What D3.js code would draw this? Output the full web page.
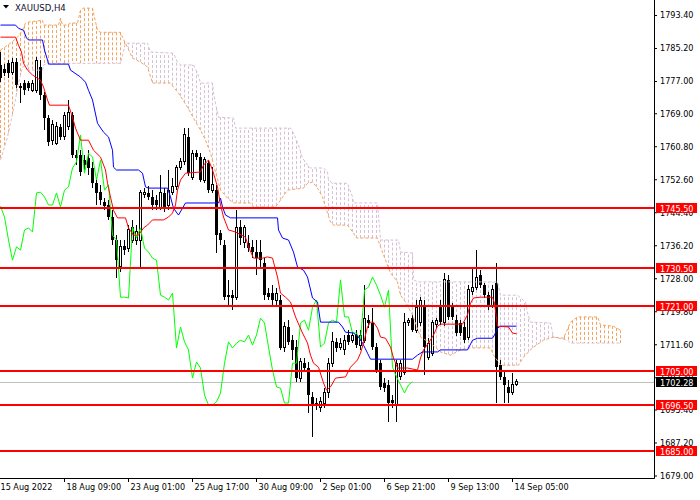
<!DOCTYPE html>
<html>
<head>
<meta charset="utf-8">
<script src="https://cdn.jsdelivr.net/npm/d3@7"></script>
<style>
  body { margin: 0; background: #fff; }
  svg { display: block; }
  text { font-family: "DejaVu Sans Condensed", "DejaVu Sans", sans-serif; }
</style>
</head>
<body>
<script>
// candles, one per H4 bar (bar 0 = left edge)
var open = [1781.0,1780.0,1781.4,1779.2,1781.7,1775.7,1776.5,1776.5,1774.7,1774.7,
  1780.5,1773.5,1767.8,1762.3,1761.6,1765.6,1763.1,1765.6,1768.5,1758.6,
  1758.6,1757.4,1757.9,1755.4,1751.6,1749.4,1746.9,1746.2,1743.2,1737.5,
  1730.8,1736.0,1735.5,1737.5,1737.5,1737.5,1748.7,1749.2,1748.2,1747.4,
  1745.7,1749.2,1746.2,1749.4,1750.7,1755.4,1756.9,1763.1,1753.1,1759.1,
  1758.1,1752.4,1756.6,1749.9,1749.9,1739.2,1736.3,1723.8,1723.8,1723.1,
  1740.7,1736.8,1736.8,1735.8,1734.5,1734.5,1731.8,1724.3,1724.3,1722.6,
  1722.6,1710.7,1715.9,1712.6,1710.9,1703.2,1706.9,1705.7,1698.5,1697.0,
  1696.0,1697.0,1699.5,1706.9,1712.2,1710.9,1710.2,1713.9,1712.6,1713.9,
  1711.4,1712.6,1717.6,1716.9,1710.9,1706.9,1702.0,1701.5,1697.8,1696.5,
  1703.5,1704.5,1716.9,1718.1,1715.1,1716.9,1720.8,1708.4,1709.4,1716.4,
  1720.8,1716.9,1727.6,1720.8,1717.6,1716.9,1715.9,1713.4,1724.6,1725.6,
  1728.8,1726.3,1723.8,1721.3,1726.8,1706.4,1703.5,1701.0,1699.7,1701.7];
var high = [1784.2,1781.2,1782.2,1782.7,1782.7,1776.5,1777.2,1777.0,1777.2,1782.9,
  1782.2,1774.2,1768.5,1767.3,1766.8,1766.3,1769.3,1772.3,1769.3,1759.8,
  1759.8,1758.6,1759.8,1756.9,1752.9,1751.2,1747.9,1747.4,1744.9,1738.7,
  1737.5,1737.5,1741.2,1742.5,1741.2,1749.9,1750.4,1750.9,1749.9,1748.7,
  1753.6,1750.4,1754.9,1752.9,1756.1,1757.9,1765.3,1765.3,1759.8,1759.8,
  1759.1,1758.1,1757.4,1755.6,1751.2,1740.0,1737.5,1727.6,1725.1,1744.9,
  1742.5,1741.2,1738.7,1737.5,1737.5,1737.5,1733.0,1725.6,1726.3,1725.6,
  1723.8,1717.1,1717.6,1713.9,1712.6,1708.2,1708.2,1707.2,1699.7,1698.3,
  1698.5,1700.7,1708.2,1714.6,1713.1,1713.1,1713.9,1715.1,1714.6,1715.1,
  1715.1,1726.3,1718.9,1720.6,1711.9,1707.7,1703.2,1702.7,1699.0,1707.7,
  1707.7,1719.4,1718.1,1718.9,1722.6,1723.3,1722.6,1713.1,1717.6,1718.1,
  1722.6,1729.3,1728.8,1721.8,1718.9,1717.6,1717.1,1726.3,1730.8,1735.0,
  1730.0,1726.8,1724.6,1726.3,1731.8,1707.7,1705.2,1702.7,1704.5,1703.0];
var low = [1776.7,1778.2,1777.7,1778.5,1775.2,1771.5,1773.5,1774.5,1774.2,1774.0,
  1772.3,1764.8,1760.8,1761.1,1761.1,1762.3,1762.3,1764.8,1757.9,1756.1,
  1753.4,1754.9,1753.6,1750.4,1746.2,1746.2,1744.9,1742.5,1736.3,1728.1,
  1729.5,1733.8,1734.5,1736.8,1736.3,1730.8,1747.9,1747.4,1744.9,1744.9,
  1744.9,1744.4,1744.9,1748.7,1749.9,1754.9,1756.1,1753.4,1752.4,1757.4,
  1751.9,1751.6,1749.2,1749.2,1734.3,1736.3,1722.6,1720.8,1720.1,1722.6,
  1736.3,1735.5,1734.5,1733.0,1728.8,1730.5,1722.6,1722.6,1721.3,1721.3,
  1710.2,1709.7,1711.4,1707.7,1702.2,1702.2,1704.7,1694.5,1688.6,1695.3,
  1694.8,1695.8,1698.3,1705.9,1709.7,1710.2,1708.9,1711.4,1711.9,1710.7,
  1710.2,1711.9,1715.6,1710.2,1704.5,1700.2,1699.7,1692.3,1695.8,1692.3,
  1702.7,1704.0,1716.1,1714.6,1714.4,1716.1,1704.0,1707.7,1708.7,1715.6,
  1716.4,1716.1,1717.6,1717.6,1713.6,1713.6,1711.9,1712.6,1723.8,1725.1,
  1725.6,1723.1,1720.1,1720.6,1697.0,1702.7,1697.0,1697.0,1699.0,1701.2];
var close = [1777.7,1779.0,1779.0,1781.7,1776.0,1775.2,1774.7,1775.2,1776.5,1782.2,
  1773.5,1767.8,1761.8,1766.1,1765.6,1763.1,1768.5,1769.3,1758.6,1757.9,
  1754.4,1756.1,1755.4,1751.6,1749.2,1747.4,1745.9,1743.2,1737.5,1732.5,
  1735.8,1735.0,1740.0,1740.5,1739.5,1749.2,1749.4,1748.2,1746.2,1746.2,
  1749.2,1745.7,1749.9,1750.7,1755.4,1756.9,1763.6,1754.1,1759.1,1758.1,
  1752.4,1757.4,1749.9,1751.2,1738.7,1737.5,1723.3,1723.3,1723.1,1740.7,
  1738.0,1740.5,1735.5,1734.5,1733.0,1732.5,1723.8,1723.3,1722.6,1724.3,
  1710.7,1715.9,1712.2,1710.2,1703.2,1707.2,1705.7,1699.0,1696.5,1696.5,
  1697.3,1699.5,1706.9,1712.2,1710.7,1711.9,1712.6,1712.2,1713.9,1711.4,
  1713.9,1718.1,1716.9,1710.9,1705.2,1701.0,1700.7,1697.0,1697.0,1706.9,
  1706.9,1716.9,1717.6,1715.1,1720.8,1722.6,1710.9,1711.9,1716.9,1717.6,
  1717.1,1727.6,1718.4,1718.4,1714.4,1714.4,1712.6,1725.1,1725.8,1728.3,
  1726.3,1723.8,1720.8,1725.1,1705.9,1703.5,1701.5,1699.5,1701.5,1702.28];

// ichimoku lines as [bar, price] vertices
var tenkan = [[0,1787.9],[3.75,1787.9],[4.5,1785.9],[5.25,1784.2],[5.75,1781.4],[6.75,1779.7],[8,1778.5],
  [9.25,1777.7],[10,1777.2],[10.75,1775.5],[11.75,1772.3],[12.25,1771.0],[17,1771.0],[18,1768.0],
  [18.75,1765.3],[20,1762.3],[22,1762.3],[23.25,1759.8],[25,1758.1],[26.25,1754.9],[26.75,1751.6],
  [27.5,1748.2],[28.25,1744.9],[29.25,1743.0],[31.25,1743.0],[32,1740.5],[33.25,1738.7],[34.5,1738.7],
  [35.75,1740.5],[36.75,1741.2],[38,1742.5],[40.75,1742.5],[42,1743.2],[43,1744.2],[43.75,1746.2],
  [44.25,1749.9],[45,1752.4],[46.25,1754.1],[50,1754.4],[50.75,1756.1],[52,1757.4],[53,1754.9],
  [54.25,1750.7],[55,1746.2],[55.75,1743.2],[57,1740.0],[58.75,1739.5],[61.25,1738.2],[62,1735.8],
  [63.25,1733.0],[65.5,1733.0],[66.75,1733.3],[68,1733.0],[69.25,1728.3],[70,1724.3],[71.25,1723.3],
  [72.5,1722.1],[73.75,1718.4],[75.5,1714.4],[76.75,1711.9],[77.5,1708.9],[78.25,1706.9],[79.5,1705.9],
  [80.75,1702.0],[81.5,1700.2],[82.5,1701.0],[83.75,1703.2],[86.25,1703.5],[87.5,1705.9],[89.25,1707.7],
  [90,1709.4],[90.75,1711.9],[91.75,1715.9],[92.5,1717.1],[93.25,1717.1],[94.25,1715.6],[95,1713.4],
  [96.25,1713.1],[97.5,1710.9],[98.25,1708.2],[99.25,1705.7],[101.75,1705.7],[104.25,1705.2],[105,1708.2],
  [105.75,1710.2],[107,1711.9],[108.25,1713.9],[109.25,1716.1],[110,1716.6],[115.5,1716.6],[116.75,1718.9],
  [117.5,1721.8],[118.25,1723.1],[120,1723.3],[123,1723.3],[123.5,1721.8],[124.25,1716.1],[127,1715.9],
  [128,1714.4],[129,1714.2]];
var kijun = [[0,1790.9],[3.75,1790.9],[4.5,1790.1],[5.75,1789.6],[6.5,1787.7],[7,1787.2],[10.5,1787.2],
  [11,1784.7],[11.75,1782.2],[12,1781.2],[17,1781.2],[17.5,1779.7],[20,1778.0],[21.25,1776.7],[22,1774.7],
  [23,1772.3],[24.25,1766.5],[25.75,1764.3],[27,1763.1],[28,1759.8],[28.25,1755.6],[29,1754.9],
  [34.5,1754.9],[35.5,1754.1],[36.25,1750.7],[37,1750.4],[41.75,1750.4],[42.5,1748.2],[43.25,1745.4],
  [44.5,1743.7],[45.5,1745.4],[46.25,1746.7],[54.5,1746.7],[55,1747.9],[55.5,1745.7],[56.25,1743.7],
  [57.5,1743.0],[69.25,1743.0],[69.5,1740.0],[70.5,1738.0],[72,1737.5],[73.25,1734.5],[74.25,1730.8],
  [75.75,1730.0],[76.75,1728.3],[78,1723.1],[79.25,1722.1],[80,1717.1],[84.5,1717.1],[85.5,1715.9],
  [86.25,1714.6],[88.25,1714.4],[89.5,1713.4],[90.5,1711.9],[91.75,1709.4],[92.5,1707.9],[103,1707.9],
  [104.25,1708.9],[105.5,1709.7],[109.25,1709.7],[110,1710.2],[116.75,1710.2],[118,1712.6],[119.25,1713.1],
  [123,1713.1],[123.5,1713.9],[124.25,1715.6],[125,1716.1],[129,1716.1]];
var spanA = [[0,1784.7],[2.5,1786.4],[4.25,1787.9],[5.5,1789.6],[6.25,1791.4],[6.75,1791.6],[10.5,1792.1],
  [10.75,1790.9],[14.5,1790.9],[15,1792.6],[15.5,1790.9],[16.75,1790.9],[17.5,1791.4],[19.25,1791.4],
  [20,1794.6],[20.75,1795.1],[23,1795.1],[23.25,1793.9],[24.25,1789.6],[25,1789.1],[30,1789.1],
  [30.5,1787.9],[31.25,1786.4],[33,1782.7],[35,1781.7],[36.75,1780.5],[38,1776.5],[42.5,1776.5],
  [43.25,1775.5],[44.5,1774.0],[46.75,1770.5],[48.25,1767.8],[50,1764.8],[51.25,1762.3],[52.5,1759.1],
  [53.75,1754.4],[55,1749.9],[56.75,1747.9],[58.25,1746.7],[62.5,1746.7],[63.25,1745.7],[68.75,1745.7],
  [70,1747.4],[71.75,1749.9],[75.75,1750.4],[76.75,1751.6],[78,1751.9],[79.25,1750.4],[80.5,1748.2],
  [81.25,1745.7],[81.75,1744.2],[82.5,1742.0],[83.25,1741.2],[86.75,1741.2],[88.25,1739.2],[89,1738.0],
  [94.25,1738.0],[95,1735.8],[96.25,1732.5],[97.5,1729.3],[99.25,1727.1],[100,1723.8],[101.25,1722.1],
  [103,1718.9],[105,1713.4],[107.5,1711.9],[110,1709.7],[112.5,1708.9],[115,1710.2],[116.75,1710.7],
  [122.5,1710.7],[123.25,1708.9],[125,1706.4],[129.5,1706.4],[130.75,1708.4],[132,1709.7],[133.25,1710.9],
  [135.75,1712.6],[138.25,1713.4],[140.75,1713.1],[142.5,1717.1],[144.25,1718.4],[149.25,1718.4],
  [150,1716.4],[153.25,1716.1],[155,1715.1]];
var spanB = [[0,1757.4],[0.75,1759.8],[1.75,1763.1],[2.5,1766.5],[3.25,1769.8],[4.5,1776.5],[5.5,1780.5],
  [6.75,1781.0],[7,1779.7],[10.5,1779.7],[10.75,1781.0],[11.75,1781.4],[30,1781.4],[31.25,1786.4],
  [36.75,1786.4],[37.5,1784.2],[43.25,1783.9],[44.25,1781.7],[45,1781.0],[48.25,1781.0],[49.25,1779.0],
  [50,1776.5],[53,1776.5],[53.25,1774.0],[54.5,1768.0],[58.25,1767.8],[58.75,1765.3],[72.5,1765.3],
  [73.25,1764.1],[74.5,1761.1],[75.5,1757.9],[76.75,1756.1],[77.5,1755.4],[80.75,1755.4],[81.75,1754.4],
  [82,1752.4],[83,1751.6],[86.75,1751.6],[88,1748.2],[88.25,1746.7],[94.25,1746.7],[95,1737.5],
  [99.5,1737.5],[100,1734.5],[103,1734.3],[103.25,1727.6],[104.5,1727.1],[124.25,1727.1],[125,1723.8],
  [129.25,1723.8],[131.25,1722.1],[131.75,1719.4],[132.5,1717.1],[137.5,1716.9],[138.25,1713.4],
  [141.75,1712.6],[142.5,1711.9],[155,1711.9]];
var chikouShift = 26;
var cloudBars = 156;

// horizontal levels
var levels = [1745.5, 1730.5, 1721.0, 1705.0, 1696.5, 1685.0];
var lastPrice = 1702.28;

// axis ticks
var priceTicks = [1793.4, 1785.2, 1777.0, 1769.0, 1760.8, 1752.6, 1744.4, 1736.2, 1728.0,
  1719.8, 1711.6, 1703.4, 1695.4, 1687.2, 1679.0];
var timeTickBars = [0, 16, 32, 48, 64, 80, 96, 112, 128];
var timeTickLabels = ["15 Aug 2022", "18 Aug 09:00", "23 Aug 01:00", "25 Aug 17:00", "30 Aug 09:00",
  "2 Sep 01:00", "6 Sep 21:00", "9 Sep 13:00", "14 Sep 05:00"];

var width = 700, height = 500,
    plotW = 654, plotH = 478;

var x = d3.scaleLinear().domain([0, 163.5]).range([0, plotW]);
var y = d3.scaleLinear().domain([1678.38, 1797.13]).range([plotH, 0]);

var svg = d3.select("body").append("svg")
    .attr("width", width)
    .attr("height", height);

svg.append("rect").attr("width", width).attr("height", height).attr("fill", "#fff");

var plot = svg.append("g");

// kumo hatch, one dashed stroke per bar
var aAt = d3.scaleLinear().domain(spanA.map(function(d) { return d[0]; })).range(spanA.map(function(d) { return d[1]; }));
var bAt = d3.scaleLinear().domain(spanB.map(function(d) { return d[0]; })).range(spanB.map(function(d) { return d[1]; }));

plot.append("g").selectAll("line")
    .data(d3.range(cloudBars))
    .enter().append("line")
      .attr("x1", function(d) { return Math.round(x(d)) + 0.5; })
      .attr("x2", function(d) { return Math.round(x(d)) + 0.5; })
      .attr("y1", function(d) { return y(aAt(d)); })
      .attr("y2", function(d) { return y(bAt(d)); })
      .attr("stroke", function(d) { return aAt(d) >= bAt(d) ? "#f4a460" : "#d8bfd8"; })
      .attr("stroke-dasharray", "3,2");

// last price line
plot.append("line")
    .attr("x1", 0).attr("x2", plotW)
    .attr("y1", Math.round(y(lastPrice)) + 0.5).attr("y2", Math.round(y(lastPrice)) + 0.5)
    .attr("stroke", "#c0c0c0");

// candles
var bars = plot.append("g").attr("shape-rendering", "crispEdges")
  .selectAll("g.bar")
    .data(d3.range(open.length))
    .enter().append("g")
      .attr("class", "bar")
      .attr("transform", function(i) { return "translate(" + Math.round(x(i)) + ",0)"; });

bars.append("line")
    .attr("x1", 0.5).attr("x2", 0.5)
    .attr("y1", function(i) { return y(high[i]); })
    .attr("y2", function(i) { return y(low[i]); })
    .attr("stroke", "#000");

bars.append("rect")
    .attr("x", function(i) { return close[i] >= open[i] ? -0.5 : -1; })
    .attr("width", function(i) { return close[i] >= open[i] ? 2 : 3; })
    .attr("y", function(i) { return y(Math.max(open[i], close[i])); })
    .attr("height", function(i) { return Math.max(1, Math.abs(y(open[i]) - y(close[i]))); })
    .attr("fill", function(i) { return close[i] >= open[i] ? "#fff" : "#000"; })
    .attr("stroke", function(i) { return close[i] >= open[i] ? "#000" : "none"; });

// lines
var line = d3.line()
    .x(function(d) { return x(d[0]) + 0.5; })
    .y(function(d) { return y(d[1]); });

plot.append("path").datum(spanA).attr("d", line)
    .attr("fill", "none").attr("stroke", "#f4a460").attr("stroke-dasharray", "3,2");
plot.append("path").datum(spanB).attr("d", line)
    .attr("fill", "none").attr("stroke", "#d8bfd8").attr("stroke-dasharray", "3,2");

var chikou = d3.range(chikouShift, close.length).map(function(i) { return [i - chikouShift, close[i]]; });
plot.append("path").datum(chikou).attr("d", line)
    .attr("fill", "none").attr("stroke", "#00ff00");
plot.append("path").datum(kijun).attr("d", line)
    .attr("fill", "none").attr("stroke", "#0000ff");
plot.append("path").datum(tenkan).attr("d", line)
    .attr("fill", "none").attr("stroke", "#ff0000");

// horizontal levels
plot.append("g").selectAll("line")
    .data(levels)
    .enter().append("line")
      .attr("x1", 0).attr("x2", plotW)
      .attr("y1", function(d) { return Math.round(y(d)); })
      .attr("y2", function(d) { return Math.round(y(d)); })
      .attr("stroke", "#ff0000")
      .attr("stroke-width", 2);

// axes
var yAxis = d3.axisRight(y)
    .tickValues(priceTicks)
    .tickFormat(d3.format(".2f"))
    .tickSize(3)
    .tickSizeOuter(0);

var gy = svg.append("g")
    .attr("transform", "translate(" + plotW + ",0)")
    .call(yAxis);
gy.select(".domain").attr("d", "M0.5,0V" + (plotH + 0.5));
gy.selectAll("text").attr("x", 6).attr("font-size", 9).attr("fill", "#000");

var xAxis = d3.axisBottom(x)
    .tickValues(timeTickBars)
    .tickFormat(function(d, i) { return timeTickLabels[i]; })
    .tickSize(4)
    .tickSizeOuter(0);

var gx = svg.append("g")
    .attr("transform", "translate(0," + plotH + ")")
    .call(xAxis);
gx.select(".domain").attr("d", "M0,0.5H" + (plotW + 0.5));
gx.selectAll("text")
    .attr("text-anchor", "start")
    .attr("x", 2)
    .attr("y", 6)
    .attr("font-size", 9)
    .attr("fill", "#000");
gx.selectAll(".tick").filter(function(d) { return d === 0; }).select("line").remove();
gx.selectAll(".tick").filter(function(d) { return d === 0; }).select("text").attr("x", 0);

// price tags on the right axis
function tag(v, fill, label) {
  var g = svg.append("g").attr("transform", "translate(656," + Math.round(y(v)) + ")");
  g.append("rect").attr("x", 0).attr("y", -5).attr("width", 41).attr("height", 10).attr("fill", fill);
  g.append("text").attr("x", 4).attr("y", 3.5).attr("font-size", 9).attr("fill", "#fff").text(label);
}
levels.forEach(function(v) { tag(v, "#ff0000", d3.format(".2f")(v)); });
tag(lastPrice, "#000", d3.format(".2f")(lastPrice));

// title
svg.append("path").attr("d", "M3,5L9,5L6,8.5Z").attr("fill", "#000");
svg.append("text")
    .attr("x", 15).attr("y", 11)
    .attr("font-size", 9.5)
    .attr("fill", "#101030")
    .text("XAUUSD,H4");
</script>
</body>
</html>
